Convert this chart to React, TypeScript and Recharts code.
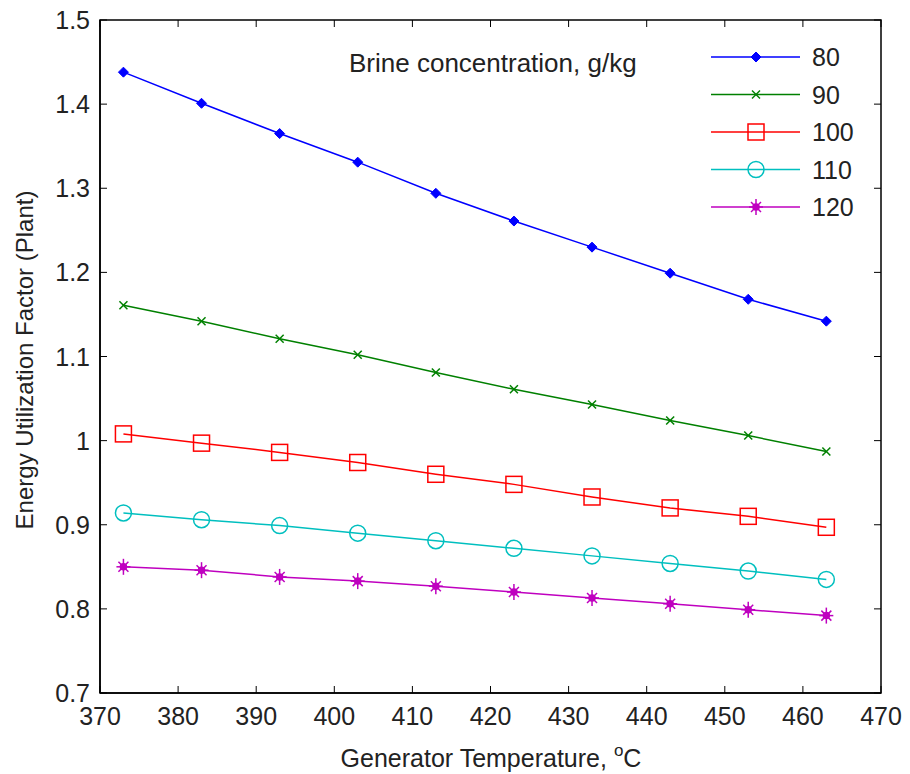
import React from "react";
import {
  Line,
  LineChart,
  ReferenceArea,
  XAxis,
  YAxis,
} from "recharts";

// generator temperature, degC
const temps = [373, 383, 393, 403, 413, 423, 433, 443, 453, 463];

// energy utilization factor per brine concentration (g/kg)
const euf80 = [1.438, 1.401, 1.365, 1.331, 1.294, 1.261, 1.230, 1.199, 1.168, 1.142];
const euf90 = [1.161, 1.142, 1.121, 1.102, 1.081, 1.061, 1.043, 1.024, 1.006, 0.987];
const euf100 = [1.008, 0.997, 0.986, 0.974, 0.960, 0.948, 0.933, 0.920, 0.910, 0.897];
const euf110 = [0.914, 0.906, 0.899, 0.890, 0.881, 0.872, 0.863, 0.854, 0.845, 0.835];
const euf120 = [0.850, 0.846, 0.838, 0.833, 0.827, 0.820, 0.813, 0.806, 0.799, 0.792];

const xTicks = [370, 380, 390, 400, 410, 420, 430, 440, 450, 460, 470];
const yTicks = [0.7, 0.8, 0.9, 1.0, 1.1, 1.2, 1.3, 1.4, 1.5];

const W = 910;
const H = 774;
const M = { top: 20, right: 29, bottom: 0, left: 0 };
const PLOT_TOP = M.top;
const PLOT_RIGHT = W - M.right;
const TICK = 7;
const FONT = "'Liberation Sans', Arial, sans-serif";
const INK = "#222";

type Marker = "diamond" | "x" | "square" | "circle" | "star";

const series: { key: string; name: string; color: string; marker: Marker; values: number[] }[] = [
  { key: "c80", name: "80", color: "#0000ff", marker: "diamond", values: euf80 },
  { key: "c90", name: "90", color: "#008000", marker: "x", values: euf90 },
  { key: "c100", name: "100", color: "#ff0000", marker: "square", values: euf100 },
  { key: "c110", name: "110", color: "#00bfbf", marker: "circle", values: euf110 },
  { key: "c120", name: "120", color: "#bf00bf", marker: "star", values: euf120 },
];

const data = temps.map((t, i) => {
  const row: Record<string, number> = { t };
  series.forEach((s) => (row[s.key] = s.values[i]));
  return row;
});

function markerShape(m: Marker, cx: number, cy: number, color: string, key?: string) {
  const sw = 1.5;
  switch (m) {
    case "diamond":
      return (
        <polygon
          key={key}
          points={`${cx},${cy - 5} ${cx + 5},${cy} ${cx},${cy + 5} ${cx - 5},${cy}`}
          fill={color}
          stroke={color}
        />
      );
    case "x":
      return (
        <g key={key} stroke={color} strokeWidth={sw}>
          <line x1={cx - 4} y1={cy - 4} x2={cx + 4} y2={cy + 4} />
          <line x1={cx - 4} y1={cy + 4} x2={cx + 4} y2={cy - 4} />
        </g>
      );
    case "square":
      return (
        <rect key={key} x={cx - 8} y={cy - 8} width={16} height={16} fill="none" stroke={color} strokeWidth={sw} />
      );
    case "circle":
      return <circle key={key} cx={cx} cy={cy} r={8} fill="none" stroke={color} strokeWidth={sw} />;
    case "star":
      return (
        <g key={key} stroke={color} strokeWidth={sw}>
          <line x1={cx} y1={cy - 8} x2={cx} y2={cy + 8} />
          <line x1={cx - 7} y1={cy} x2={cx + 7} y2={cy} />
          <line x1={cx - 5} y1={cy - 5} x2={cx + 5} y2={cy + 5} />
          <line x1={cx - 5} y1={cy + 5} x2={cx + 5} y2={cy - 5} />
          <circle cx={cx} cy={cy} r={3} fill={color} />
        </g>
      );
  }
}

function XTick(props: any) {
  const { x, y, payload } = props;
  return (
    <g>
      <line x1={x} y1={y} x2={x} y2={y - TICK} stroke="#000" />
      <line x1={x} y1={PLOT_TOP} x2={x} y2={PLOT_TOP + TICK} stroke="#000" />
      <text x={x} y={y + 32} textAnchor="middle" fontSize={25} fontFamily={FONT} fill={INK}>
        {payload.value}
      </text>
    </g>
  );
}

function YTick(props: any) {
  const { x, y, payload } = props;
  const label = String(Number(payload.value.toFixed(1)));
  return (
    <g>
      <line x1={x} y1={y} x2={x + TICK} y2={y} stroke="#000" />
      <line x1={PLOT_RIGHT} y1={y} x2={PLOT_RIGHT - TICK} y2={y} stroke="#000" />
      <text x={x - 10} y={y + 9} textAnchor="end" fontSize={25} fontFamily={FONT} fill={INK}>
        {label}
      </text>
    </g>
  );
}

// legend drawn as an overlay, MATLAB style (no box)
function Legendish() {
  const rowH = 37.5;
  return (
    <svg
      width={W}
      height={H}
      style={{ position: "absolute", left: 0, top: 0, pointerEvents: "none" }}
    >
      <text x={349} y={72} fontSize={26} fontFamily={FONT} fill={INK}>
        Brine concentration, g/kg
      </text>
      {series.map((s, i) => {
        const cy = 57 + i * rowH;
        return (
          <g key={s.key}>
            <line x1={711} y1={cy} x2={800} y2={cy} stroke={s.color} strokeWidth={1.5} />
            {markerShape(s.marker, 756, cy, s.color)}
            <text x={812} y={cy + 9} fontSize={25} fontFamily={FONT} fill={INK}>
              {s.name}
            </text>
          </g>
        );
      })}
    </svg>
  );
}

export default function App() {
  return (
    <div style={{ position: "absolute", left: 0, top: 0, width: W, height: H, background: "#fff" }}>
      <LineChart width={W} height={H} data={data} margin={M}>
        <XAxis
          dataKey="t"
          type="number"
          domain={[370, 470]}
          ticks={xTicks}
          interval={0}
          height={81}
          tickSize={0}
          tickMargin={0}
          tickLine={false}
          axisLine={{ stroke: "#000", strokeWidth: 1.5 }}
          tick={<XTick />}
          label={{
            content: () => (
              <text x={491} y={767} textAnchor="middle" fontSize={25} fontFamily={FONT} fill={INK}>
                Generator Temperature,{" "}
                <tspan fontSize={17} dy={-11}>o</tspan>
                <tspan dy={11}>C</tspan>
              </text>
            ),
          }}
        />
        <YAxis
          type="number"
          domain={[0.7, 1.5]}
          ticks={yTicks}
          interval={0}
          width={100}
          tickSize={0}
          tickMargin={0}
          tickLine={false}
          axisLine={{ stroke: "#000", strokeWidth: 1.5 }}
          tick={<YTick />}
          label={{
            content: () => (
              <text
                x={33}
                y={360}
                transform="rotate(-90 33 360)"
                textAnchor="middle"
                fontSize={24}
                fontFamily={FONT}
                fill={INK}
              >
                Energy Utilization Factor (Plant)
              </text>
            ),
          }}
        />
        <ReferenceArea
          x1={370}
          x2={470}
          y1={0.7}
          y2={1.5}
          fill="none"
          stroke="#000"
          strokeWidth={1.5}
          fillOpacity={0}
          ifOverflow="visible"
        />
        {series.map((s) => (
          <Line
            key={s.key}
            type="linear"
            dataKey={s.key}
            name={s.name}
            stroke={s.color}
            strokeWidth={1.5}
            isAnimationActive={false}
            activeDot={false}
            dot={(p: any) => markerShape(s.marker, p.cx, p.cy, s.color, `${s.key}-${p.index}`)}
          />
        ))}
      </LineChart>
      <Legendish />
    </div>
  );
}
